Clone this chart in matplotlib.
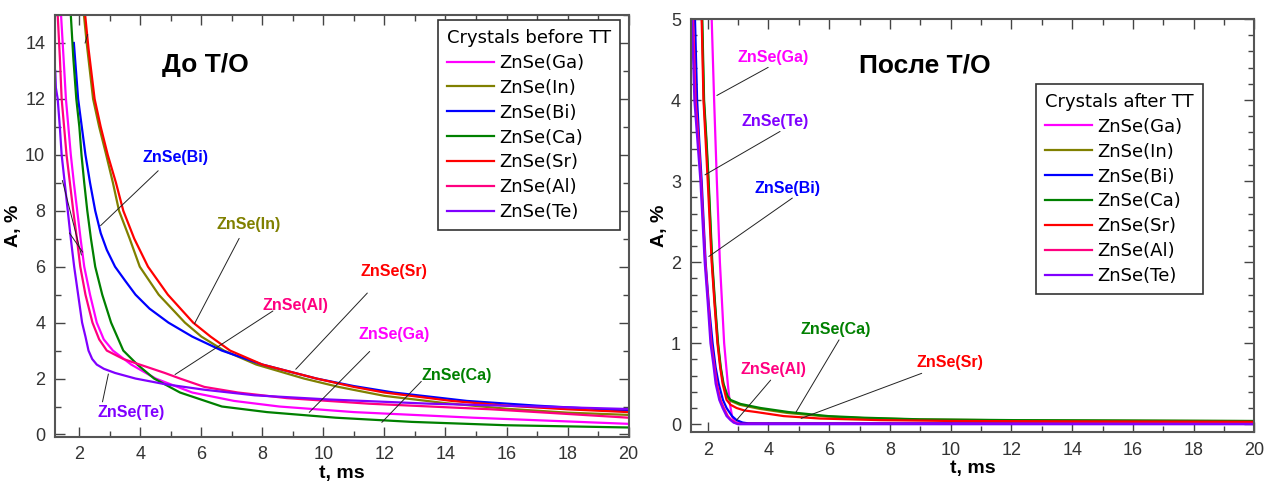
import matplotlib
matplotlib.use("Agg")
import matplotlib.pyplot as plt
from matplotlib.ticker import MultipleLocator

plt.rcParams['font.family'] = ['Liberation Sans', 'DejaVu Sans']

names = ["ZnSe(Ga)", "ZnSe(In)", "ZnSe(Bi)", "ZnSe(Ca)", "ZnSe(Sr)", "ZnSe(Al)", "ZnSe(Te)"]
colors = ["#ff00ff", "#808000", "#0000ff", "#008000", "#ff0000", "#ff0080", "#8000ff"]

# --- before heat treatment ---
t_ga_0 = [1.4, 1.48, 1.56, 1.64, 1.72, 1.82, 1.93, 2.04, 2.16, 2.35, 2.57, 2.8, 3.1, 3.7, 4.5, 5.7, 7.07, 8.55, 11.0, 14.9, 20.0]
a_ga_0 = [15.0, 13.5, 12.0, 11.0, 10.0, 9.0, 8.0, 7.0, 6.0, 5.0, 4.0, 3.4, 3.0, 2.5, 2.0, 1.5, 1.2, 1.0, 0.8, 0.6, 0.38]
t_in_0 = [2.15, 2.25, 2.45, 2.65, 2.88, 3.1, 3.3, 3.65, 3.98, 4.6, 5.46, 6.0, 6.74, 7.8, 9.36, 10.5, 12.0, 14.0, 16.0, 18.0, 20.0]
a_in_0 = [15.0, 13.9, 12.0, 11.0, 10.0, 9.0, 8.0, 7.0, 6.0, 5.0, 4.0, 3.5, 3.0, 2.5, 2.0, 1.7, 1.38, 1.12, 0.92, 0.78, 0.7]
t_bi_0 = [1.82, 1.96, 2.08, 2.2, 2.35, 2.52, 2.7, 2.9, 3.17, 3.5, 3.84, 4.3, 4.92, 5.7, 6.67, 8.0, 9.77, 11.0, 12.3, 14.7, 17.0, 20.0]
a_bi_0 = [14.0, 12.0, 11.0, 10.0, 9.0, 8.0, 7.2, 6.6, 6.0, 5.5, 5.0, 4.5, 4.0, 3.5, 3.0, 2.5, 2.0, 1.73, 1.5, 1.2, 1.03, 0.85]
t_ca_0 = [1.72, 1.8, 1.9, 2.0, 2.07, 2.16, 2.26, 2.38, 2.52, 2.75, 3.04, 3.44, 3.9, 4.45, 5.3, 6.67, 8.15, 10.4, 12.9, 16.0, 20.0]
a_ca_0 = [15.0, 13.5, 12.0, 11.0, 10.0, 9.0, 8.0, 7.0, 6.0, 5.0, 4.0, 3.0, 2.5, 2.0, 1.5, 1.0, 0.8, 0.6, 0.45, 0.33, 0.25]
t_sr_0 = [2.19, 2.3, 2.5, 2.7, 2.93, 3.2, 3.44, 3.8, 4.25, 4.9, 5.73, 6.3, 6.94, 8.0, 9.77, 11.0, 12.0, 14.2, 16.0, 18.0, 20.0]
a_sr_0 = [15.0, 13.8, 12.0, 11.0, 10.0, 9.0, 8.0, 7.0, 6.0, 5.0, 4.0, 3.5, 3.0, 2.5, 2.0, 1.7, 1.5, 1.2, 1.03, 0.9, 0.8]
t_al_0 = [1.29, 1.36, 1.42, 1.5, 1.58, 1.69, 1.8, 1.92, 2.03, 2.2, 2.43, 2.65, 2.9, 3.44, 3.98, 4.8, 5.3, 6.1, 7.2, 8.8, 11.5, 15.5, 20.0]
a_al_0 = [15.0, 13.5, 12.0, 11.0, 10.0, 9.0, 8.0, 7.0, 6.0, 5.0, 4.0, 3.4, 3.0, 2.7, 2.5, 2.2, 2.0, 1.7, 1.5, 1.3, 1.1, 0.9, 0.6]
t_te_0 = [1.21, 1.23, 1.29, 1.36, 1.42, 1.52, 1.62, 1.72, 1.83, 1.96, 2.09, 2.2, 2.3, 2.42, 2.57, 2.8, 3.17, 3.84, 4.8, 6.1, 7.75, 10.2, 13.5, 17.0, 20.0]
a_te_0 = [13.0, 12.4, 12.0, 11.0, 10.0, 9.0, 8.0, 7.0, 6.0, 5.0, 4.0, 3.5, 3.0, 2.7, 2.5, 2.35, 2.2, 2.0, 1.8, 1.6, 1.4, 1.25, 1.1, 1.0, 0.91]

# --- after heat treatment ---
t_ga_1 = [2.13, 2.17, 2.21, 2.3, 2.4, 2.47, 2.54, 2.6, 2.66, 2.73, 2.8, 2.88, 3.0, 4.0, 8.0, 14.0, 20.0]
a_ga_1 = [5.0, 4.5, 4.0, 3.0, 2.0, 1.5, 1.0, 0.75, 0.5, 0.25, 0.1, 0.03, 0.015, 0.01, 0.01, 0.01, 0.01]
t_in_1 = [1.81, 1.87, 1.95, 2.02, 2.14, 2.23, 2.33, 2.42, 2.51, 2.64, 2.74, 3.05, 3.7, 4.6, 5.9, 7.1, 9.0, 12.0, 16.0, 20.0]
a_in_1 = [5.0, 4.0, 3.5, 3.0, 2.0, 1.5, 1.0, 0.7, 0.5, 0.34, 0.29, 0.24, 0.19, 0.14, 0.095, 0.075, 0.058, 0.048, 0.043, 0.038]
t_bi_1 = [1.58, 1.65, 1.72, 1.8, 1.93, 2.03, 2.16, 2.26, 2.36, 2.5, 2.62, 2.8, 2.95, 3.15, 3.34, 5.0, 10.0, 15.0, 20.0]
a_bi_1 = [5.0, 4.0, 3.5, 3.0, 2.0, 1.5, 1.0, 0.7, 0.5, 0.3, 0.2, 0.1, 0.05, 0.02, 0.01, 0.01, 0.01, 0.01, 0.01]
t_ca_1 = [1.82, 1.88, 1.96, 2.03, 2.15, 2.24, 2.34, 2.43, 2.52, 2.65, 2.75, 3.08, 3.74, 4.66, 5.97, 7.16, 9.0, 12.2, 16.0, 20.0]
a_ca_1 = [5.0, 4.0, 3.5, 3.0, 2.0, 1.5, 1.0, 0.7, 0.5, 0.35, 0.3, 0.25, 0.2, 0.15, 0.1, 0.08, 0.06, 0.05, 0.045, 0.04]
t_sr_1 = [1.8, 1.86, 1.93, 2.0, 2.13, 2.22, 2.32, 2.41, 2.49, 2.62, 2.75, 2.95, 3.2, 3.6, 4.5, 5.7, 7.7, 10.0, 14.0, 20.0]
a_sr_1 = [5.0, 4.0, 3.5, 3.0, 2.0, 1.5, 1.0, 0.7, 0.5, 0.3, 0.24, 0.2, 0.17, 0.15, 0.1, 0.07, 0.05, 0.04, 0.035, 0.03]
t_al_1 = [1.52, 1.6, 1.7, 1.78, 1.92, 2.02, 2.12, 2.21, 2.3, 2.42, 2.53, 2.66, 2.78, 2.88, 3.0, 5.0, 10.0, 15.0, 20.0]
a_al_1 = [5.0, 4.0, 3.5, 3.0, 2.0, 1.5, 1.0, 0.75, 0.5, 0.3, 0.2, 0.1, 0.05, 0.02, 0.005, 0.005, 0.005, 0.005, 0.005]
t_te_1 = [1.48, 1.56, 1.66, 1.76, 1.9, 2.0, 2.09, 2.18, 2.26, 2.38, 2.49, 2.62, 2.75, 2.85, 3.0, 5.0, 10.0, 15.0, 20.0]
a_te_1 = [5.0, 4.0, 3.5, 3.0, 2.0, 1.5, 1.0, 0.75, 0.5, 0.3, 0.2, 0.1, 0.05, 0.02, 0.0, 0.0, 0.0, 0.0, 0.0]

before = [(t_ga_0, a_ga_0), (t_in_0, a_in_0), (t_bi_0, a_bi_0), (t_ca_0, a_ca_0),
          (t_sr_0, a_sr_0), (t_al_0, a_al_0), (t_te_0, a_te_0)]
after = [(t_ga_1, a_ga_1), (t_in_1, a_in_1), (t_bi_1, a_bi_1), (t_ca_1, a_ca_1),
         (t_sr_1, a_sr_1), (t_al_1, a_al_1), (t_te_1, a_te_1)]

# curve labels: (name index, text position, leader start, leader end)
labels_0 = [(2, (5.15, 9.9), (4.65, 9.5), (2.63, 7.4)),
            (1, (7.55, 7.5), (7.28, 7.1), (5.73, 3.87)),
            (4, (12.3, 5.82), (11.5, 5.13), (9.03, 2.26)),
            (5, (9.09, 4.62), (8.42, 4.47), (5.06, 2.09)),
            (0, (12.3, 3.58), (11.58, 3.04), (9.47, 0.72)),
            (3, (14.37, 2.12), (13.27, 1.97), (11.85, 0.36)),
            (6, (3.71, 0.77), (2.97, 2.26), (2.74, 1.07))]
extra_leaders_0 = [((1.42, 9.18), (2.09, 6.32)), ((1.62, 7.29), (2.16, 6.44)), ((2.16, 13.9), (2.3, 14.4))]

labels_1 = [(0, (4.14, 4.52), (4.07, 4.42), (2.22, 4.04)),
            (6, (4.22, 3.73), (4.46, 3.63), (1.83, 3.06)),
            (2, (4.62, 2.91), (4.86, 2.81), (1.96, 2.05)),
            (3, (6.22, 1.17), (6.37, 1.07), (4.86, 0.12)),
            (5, (4.16, 0.68), (4.13, 0.57), (2.88, 0.02)),
            (4, (9.99, 0.76), (9.13, 0.64), (4.99, 0.06))]


def style_axes(ax, xlim, ylim, ymaj, ymin):
    ax.set_xlim(*xlim)
    ax.set_ylim(*ylim)
    ax.xaxis.set_major_locator(MultipleLocator(2))
    ax.xaxis.set_minor_locator(MultipleLocator(1))
    ax.yaxis.set_major_locator(MultipleLocator(ymaj))
    ax.yaxis.set_minor_locator(MultipleLocator(ymin))
    ax.tick_params(which='both', direction='in', top=True, right=True, colors='#444444',
                   labelcolor='#333333', labelsize=13, width=1.0)
    ax.tick_params(which='major', length=7, pad=7)
    ax.tick_params(which='minor', length=4)
    for s in ax.spines.values():
        s.set_color('#555555')
        s.set_linewidth(1.5)
    ax.set_xlabel("t, ms", fontsize=14, fontweight='bold', labelpad=1)
    ax.set_ylabel("A, %", fontsize=14, fontweight='bold', labelpad=2)


def draw_panel(ax, data, labels, extra, title, title_pos, legend_title, legend_anchor):
    for (t, a), name, c in zip(data, names, colors):
        ax.plot(t, a, color=c, lw=1.6, label=name)
    for idx, tpos, p0, p1 in labels:
        ax.text(tpos[0], tpos[1], names[idx], color=colors[idx], fontsize=11.5,
                fontweight='bold', ha='center', va='center')
        ax.annotate("", xy=p1, xytext=p0,
                    arrowprops=dict(arrowstyle='-', color='#222222', lw=0.7))
    for p0, p1 in extra:
        ax.annotate("", xy=p1, xytext=p0,
                    arrowprops=dict(arrowstyle='-', color='#222222', lw=0.7))
    ax.text(title_pos[0], title_pos[1], title, fontsize=19, fontweight='bold',
            ha='center', va='center')
    leg = ax.legend(title=legend_title, loc='upper right', bbox_to_anchor=legend_anchor,
                    borderaxespad=0, prop={'family': 'DejaVu Sans', 'size': 13},
                    title_fontproperties={'family': 'DejaVu Sans', 'size': 13},
                    handlelength=2.6, handletextpad=0.3, labelspacing=0.38,
                    borderpad=0.5, fancybox=False, framealpha=1,
                    edgecolor='#333333', alignment='left')
    leg.get_frame().set_linewidth(1.2)


fig = plt.figure(figsize=(12.66, 4.84), dpi=100)
ax1 = fig.add_axes([0.0434, 0.0977, 0.4531, 0.8713])
ax2 = fig.add_axes([0.5456, 0.1068, 0.4453, 0.8539])

style_axes(ax1, (1.2, 20), (-0.08, 15), 2, 1)
style_axes(ax2, (1.44, 20), (-0.1, 5), 1, 0.2)

draw_panel(ax1, before, labels_0, extra_leaders_0, "До Т/О", (6.13, 13.2),
           "Crystals before TT", (0.985, 0.988))
draw_panel(ax2, after, labels_1, [], "После Т/О", (9.16, 4.43),
           "Crystals after TT", (0.908, 0.843))

fig.savefig("out.png", dpi=100)
